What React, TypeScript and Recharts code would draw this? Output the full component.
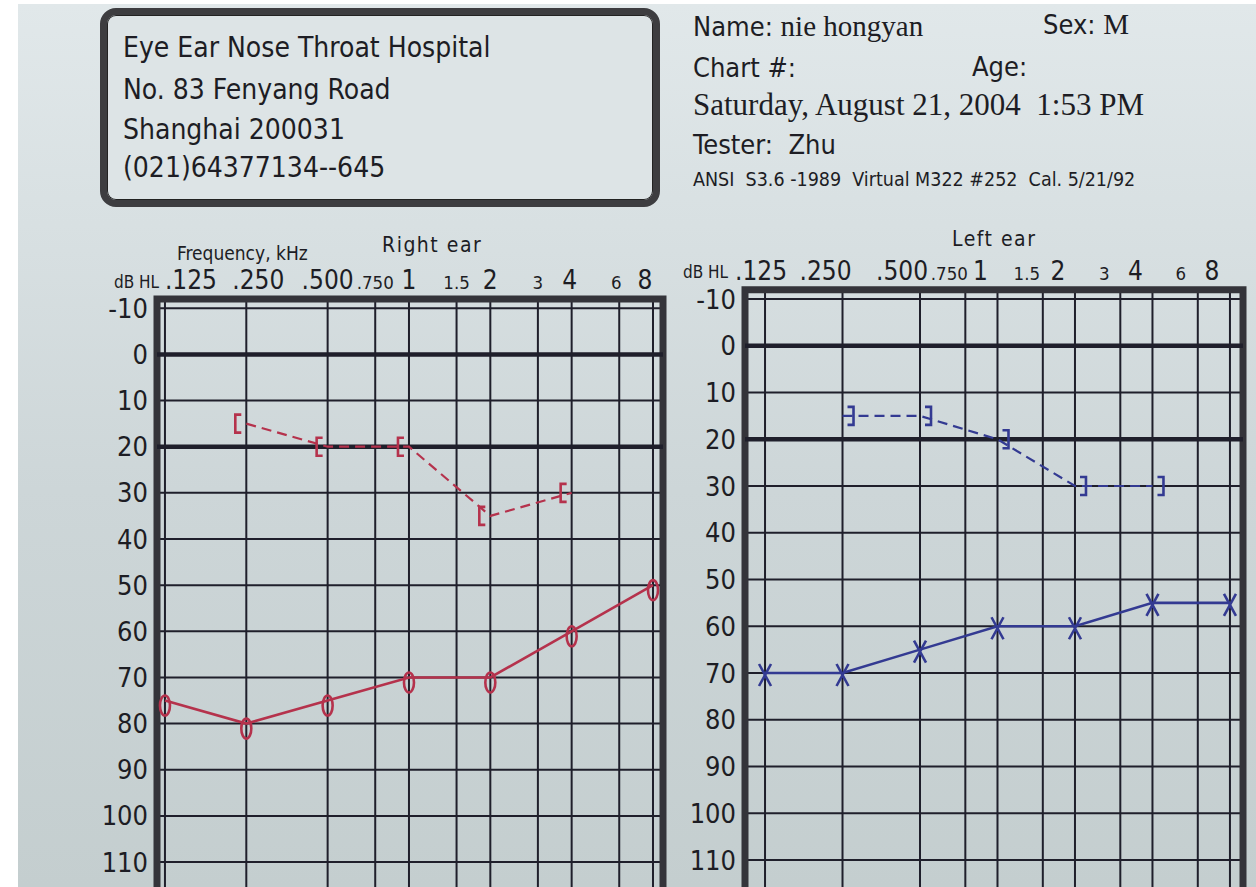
import React from 'react';
import { LineChart, Line, XAxis, YAxis, CartesianGrid, ReferenceLine, ReferenceArea } from 'recharts';

// ---------- data ----------
const freqTicks = [125, 250, 500, 750, 1000, 1500, 2000, 3000, 4000, 6000, 8000];
const freqLabels = ['.125', '.250', '.500', '.750', '1', '1.5', '2', '3', '4', '6', '8'];
const majorFreqs = [125, 250, 500, 1000, 2000, 4000, 8000];
const dbTicks = [-10, 0, 10, 20, 30, 40, 50, 60, 70, 80, 90, 100, 110];

const rightAirFreqs = [125, 250, 500, 1000, 2000, 4000, 8000];
const rightAirDb = [75, 80, 75, 70, 70, 60, 50];
const rightBoneFreqs = [250, 500, 1000, 2000, 4000];
const rightBoneDb = [15, 20, 20, 35, 30];

const leftAirFreqs = [125, 250, 500, 1000, 2000, 4000, 8000];
const leftAirDb = [70, 70, 65, 60, 60, 55, 55];
const leftBoneFreqs = [250, 500, 1000, 2000, 4000];
const leftBoneDb = [15, 15, 20, 30, 30];

const hospitalLines = ['Eye Ear Nose Throat Hospital', 'No. 83 Fenyang Road', 'Shanghai 200031', '(021)64377134--645'];

// ---------- styles ----------
const SANS = "'Liberation Sans Narrow', 'DejaVu Sans Condensed', 'Open Sans', sans-serif";
const SERIF = "'Liberation Serif', 'DejaVu Serif', serif";
const INK = '#1d1d24';
const GRID = '#1f1f2b';
const RED = '#b5324c';
const BLUE = '#333a92';

// label shifts caused by the photo's perspective (style only)
const rightTickShift = [26, 12, 0, 0, 0, 0, 0, 0, -2, -3, -8];
const leftTickShift = [-4, -17, -18, -16, -17, -16, -17, -16, -17, -17, -18];

const toRows = (fs: number[], vs: number[]) => fs.map((f, i) => ({ f, v: vs[i] }));

const T = ({ left, cy, size, children, family = SANS, spacing = 0 }: any) => (
  <div
    style={{
      position: 'absolute',
      left,
      top: cy - size * 0.55,
      fontSize: size,
      lineHeight: `${size * 1.1}px`,
      fontFamily: family,
      color: INK,
      whiteSpace: 'nowrap',
      letterSpacing: spacing,
    }}
  >
    {children}
  </div>
);

const circleDot = (color: string) => (p: any) => (
  <ellipse key={`c${p.index}`} cx={p.cx} cy={p.cy + 5} rx={5} ry={10} fill="none" stroke={color} strokeWidth={2.6} />
);
const crossDot = (color: string) => (p: any) => (
  <path
    key={`x${p.index}`}
    d={`M${p.cx - 6},${p.cy - 9} L${p.cx + 6},${p.cy + 13} M${p.cx + 6},${p.cy - 9} L${p.cx - 6},${p.cy + 13}`}
    fill="none"
    stroke={color}
    strokeWidth={2.6}
  />
);
const leftBracketDot = (color: string) => (p: any) => (
  <path
    key={`l${p.index}`}
    d={`M${p.cx - 5},${p.cy - 9} H${p.cx - 11} V${p.cy + 9} H${p.cx - 5}`}
    fill="none"
    stroke={color}
    strokeWidth={2.6}
  />
);
const rightBracketDot = (color: string) => (p: any) => (
  <path
    key={`r${p.index}`}
    d={`M${p.cx + 5},${p.cy - 9} H${p.cx + 11} V${p.cy + 9} H${p.cx + 5}`}
    fill="none"
    stroke={color}
    strokeWidth={2.6}
  />
);

type ChartProps = {
  left: number;
  top: number;
  width: number;
  height: number;
  margin: { top: number; right: number; bottom: number; left: number };
  xDomain: [number, number];
  yDomain: [number, number];
  tickBaseline: number;
  tickShift: number[];
  air: { f: number; v: number }[];
  bone: { f: number; v: number }[];
  color: string;
  airDot: any;
  boneDot: any;
};

const AXW = 50;
const AXH = 30;

const Audiogram = (c: ChartProps) => {
  const plotLeft = c.margin.left + AXW;
  const XTick = (p: any) => {
    const i = freqTicks.indexOf(p.payload.value);
    const major = majorFreqs.includes(p.payload.value);
    return (
      <text
        x={p.x + c.tickShift[i]}
        y={c.tickBaseline}
        textAnchor="middle"
        fontSize={major ? 26 : 18.5}
        fontFamily={SANS}
        fill={INK}
      >
        {freqLabels[i]}
      </text>
    );
  };
  const YTick = (p: any) => (
    <text x={plotLeft - 9} y={p.y} textAnchor="end" dominantBaseline="central" fontSize={27} fontFamily={SANS} fill={INK}>
      {p.payload.value}
    </text>
  );
  return (
    <div style={{ position: 'absolute', left: c.left, top: c.top }}>
      <LineChart width={c.width} height={c.height} margin={c.margin}>
        <XAxis
          type="number"
          dataKey="f"
          scale="log"
          orientation="top"
          domain={c.xDomain}
          allowDataOverflow
          ticks={freqTicks}
          tick={XTick}
          axisLine={false}
          tickLine={false}
          height={AXH}
          interval={0}
        />
        <YAxis
          type="number"
          dataKey="v"
          domain={c.yDomain}
          reversed
          allowDataOverflow
          ticks={dbTicks}
          tick={YTick}
          axisLine={false}
          tickLine={false}
          width={AXW}
          interval={0}
        />
        <CartesianGrid stroke={GRID} strokeWidth={2} />
        <ReferenceLine y={0} stroke={GRID} strokeWidth={4.5} />
        <ReferenceLine y={20} stroke={GRID} strokeWidth={4.5} />
        <ReferenceArea
          x1={c.xDomain[0]}
          x2={c.xDomain[1]}
          y1={c.yDomain[0]}
          y2={c.yDomain[1]}
          fill="none"
          fillOpacity={0}
          stroke="#34343a"
          strokeWidth={7}
        />
        <Line
          data={c.bone}
          dataKey="v"
          stroke={c.color}
          strokeWidth={2.2}
          strokeDasharray="10 6"
          dot={c.boneDot}
          isAnimationActive={false}
          type="linear"
        />
        <Line
          data={c.air}
          dataKey="v"
          stroke={c.color}
          strokeWidth={2.6}
          dot={c.airDot}
          isAnimationActive={false}
          type="linear"
        />
      </LineChart>
    </div>
  );
};

export default function App() {
  return (
    <div
      style={{
        position: 'absolute',
        left: 0,
        top: 0,
        width: 1256,
        height: 887,
        overflow: 'hidden',
        background: '#ffffff',
      }}
    >
      <div
        style={{
          position: 'absolute',
          left: 18,
          top: 4,
          width: 1238,
          height: 883,
          background: 'linear-gradient(180deg, #e1e8ea 0%, #d8e0e2 25%, #cdd6d8 55%, #c4cecf 100%)',
        }}
      />
      {/* header box */}
      <div
        style={{
          position: 'absolute',
          left: 100,
          top: 8,
          width: 560,
          height: 199,
          boxSizing: 'border-box',
          border: '7px solid #3d3d40',
          borderRadius: 16,
          background: '#dde4e6',
          boxShadow: 'inset 0 0 0 1px #222',
        }}
      />
      {hospitalLines.map((s, i) => (
        <T key={s} left={123} cy={[48, 90, 130, 168][i]} size={28}>
          {s}
        </T>
      ))}
      <T left={693} cy={27} size={27}>
        Name: <span style={{ fontFamily: SERIF, fontSize: 29 }}>nie hongyan</span>
      </T>
      <T left={1043} cy={25} size={27}>
        Sex: <span style={{ fontFamily: SERIF, fontSize: 29 }}>M</span>
      </T>
      <T left={693} cy={68} size={27}>
        Chart #:
      </T>
      <T left={972} cy={67} size={27}>
        Age:
      </T>
      <T left={693} cy={105} size={31} family={SERIF}>
        {'Saturday, August 21, 2004\u00a0\u00a01:53 PM'}
      </T>
      <T left={693} cy={145} size={27}>
        {'Tester:\u00a0 Zhu'}
      </T>
      <T left={693} cy={180} size={19.5}>
        {'ANSI\u00a0 S3.6 -1989\u00a0 Virtual M322 #252\u00a0 Cal. 5/21/92'}
      </T>

      {/* chart titles */}
      <T left={177} cy={253} size={19}>
        Frequency, kHz
      </T>
      <T left={382} cy={246} size={21} spacing={1.5}>
        Right ear
      </T>
      <T left={114} cy={282} size={17}>
        dB HL
      </T>
      <T left={952} cy={240} size={21} spacing={1.5}>
        Left ear
      </T>
      <T left={683} cy={272} size={17}>
        dB HL
      </T>

      <Audiogram
        left={0}
        top={230}
        width={690}
        height={680}
        margin={{ top: 39, right: 27, bottom: 11, left: 107 }}
        xDomain={[116.8, 8712]}
        yDomain={[-12, 118]}
        tickBaseline={59}
        tickShift={rightTickShift}
        air={toRows(rightAirFreqs, rightAirDb)}
        bone={toRows(rightBoneFreqs, rightBoneDb)}
        color={RED}
        airDot={circleDot(RED)}
        boneDot={leftBracketDot(RED)}
      />
      <Audiogram
        left={680}
        top={230}
        width={576}
        height={680}
        margin={{ top: 29.65, right: 13, bottom: 12.6, left: 15 }}
        xDomain={[104.5, 8990]}
        yDomain={[-12, 118]}
        tickBaseline={50}
        tickShift={leftTickShift}
        air={toRows(leftAirFreqs, leftAirDb)}
        bone={toRows(leftBoneFreqs, leftBoneDb)}
        color={BLUE}
        airDot={crossDot(BLUE)}
        boneDot={rightBracketDot(BLUE)}
      />
    </div>
  );
}
